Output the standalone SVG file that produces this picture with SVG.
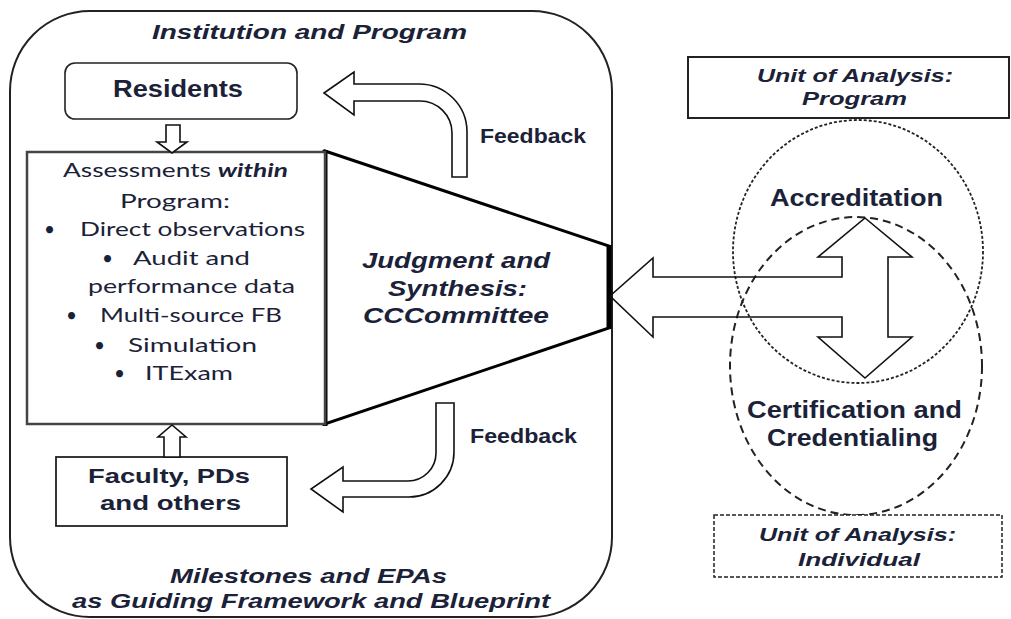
<svg xmlns="http://www.w3.org/2000/svg" width="1011" height="619" viewBox="0 0 1011 619">
<style>
.b{font-family:"Liberation Sans",Arial,sans-serif;font-weight:bold;fill:#1b2238}
.bi{font-family:"Liberation Sans",Arial,sans-serif;font-weight:bold;font-style:italic;fill:#1b2238}
.c{font-family:Lato,"Open Sans",sans-serif;font-size:19px;fill:#1b2238}
.arr{fill:#fff;stroke:#111;stroke-width:1.6;stroke-linejoin:miter}
</style>
<rect width="1011" height="619" fill="#fff"/>
<g id="institution">
<rect x="10" y="11" width="602" height="606" rx="80" ry="80" fill="#fff" stroke="#222" stroke-width="2"/>
<text class="bi" x="152" y="39" font-size="21" textLength="315" lengthAdjust="spacingAndGlyphs">Institution and Program</text>
<text class="bi" x="170" y="583" font-size="21" textLength="277" lengthAdjust="spacingAndGlyphs">Milestones and EPAs</text>
<text class="bi" x="72" y="608" font-size="21" textLength="478" lengthAdjust="spacingAndGlyphs">as Guiding Framework and Blueprint</text>
</g>
<g id="residents">
<rect x="65" y="63" width="232" height="56" rx="10" ry="10" fill="#fff" stroke="#222" stroke-width="1.6"/>
<text class="b" x="113" y="97" font-size="23" textLength="130" lengthAdjust="spacingAndGlyphs">Residents</text>
</g>
<g id="judgment">
<polygon points="325,151 609,246 609,328 325,424" fill="#fff" stroke="#000" stroke-width="3" stroke-linejoin="miter"/>
<line x1="325" y1="150" x2="325" y2="426" stroke="#000" stroke-width="5"/>
<line x1="609" y1="245" x2="609" y2="329" stroke="#000" stroke-width="5"/>
<text class="bi" x="362" y="268" font-size="22" textLength="188" lengthAdjust="spacingAndGlyphs">Judgment and</text>
<text class="bi" x="388" y="296" font-size="22" textLength="139" lengthAdjust="spacingAndGlyphs">Synthesis:</text>
<text class="bi" x="363" y="323" font-size="22" textLength="186" lengthAdjust="spacingAndGlyphs">CCCommittee</text>
</g>
<g id="assessments">
<rect x="27" y="152" width="298" height="272" fill="#fff" stroke="#444" stroke-width="2.5"/>
<text class="c" x="63" y="177" textLength="225" lengthAdjust="spacingAndGlyphs">Assessments <tspan font-weight="bold" font-style="italic">within</tspan></text>
<text class="c" x="120" y="208" textLength="110" lengthAdjust="spacingAndGlyphs">Program:</text>
<text class="c" x="44" y="236">•</text>
<text class="c" x="80" y="236" textLength="225" lengthAdjust="spacingAndGlyphs">Direct observations</text>
<text class="c" x="102" y="265">•</text>
<text class="c" x="133" y="265" textLength="117" lengthAdjust="spacingAndGlyphs">Audit and</text>
<text class="c" x="88" y="293" textLength="207" lengthAdjust="spacingAndGlyphs">performance data</text>
<text class="c" x="66" y="322">•</text>
<text class="c" x="100" y="322" textLength="182" lengthAdjust="spacingAndGlyphs">Multi-source FB</text>
<text class="c" x="94" y="352">•</text>
<text class="c" x="128" y="352" textLength="129" lengthAdjust="spacingAndGlyphs">Simulation</text>
<text class="c" x="114" y="380">•</text>
<text class="c" x="145" y="380" textLength="88" lengthAdjust="spacingAndGlyphs">ITExam</text>
</g>
<g id="faculty">
<rect x="56" y="457" width="231" height="69" fill="#fff" stroke="#222" stroke-width="1.8"/>
<text class="b" x="88" y="483" font-size="21" textLength="162" lengthAdjust="spacingAndGlyphs">Faculty, PDs</text>
<text class="b" x="100" y="510" font-size="21" textLength="141" lengthAdjust="spacingAndGlyphs">and others</text>
</g>
<g id="feedback-labels">
<text class="b" x="480" y="143" font-size="20" textLength="106" lengthAdjust="spacingAndGlyphs">Feedback</text>
<text class="b" x="470" y="443" font-size="20" textLength="107" lengthAdjust="spacingAndGlyphs">Feedback</text>
</g>
<g id="unit-program">
<rect x="688" y="57" width="321" height="61" fill="#fff" stroke="#222" stroke-width="2"/>
<text class="bi" x="757" y="82" font-size="19" textLength="196" lengthAdjust="spacingAndGlyphs">Unit of Analysis:</text>
<text class="bi" x="802" y="105" font-size="19" textLength="105" lengthAdjust="spacingAndGlyphs">Program</text>
</g>
<g id="accreditation">
<ellipse cx="858" cy="251.5" rx="125" ry="131.5" fill="none" stroke="#222" stroke-width="1.8" stroke-dasharray="3 2"/>
<text class="b" x="770" y="206" font-size="23" textLength="173" lengthAdjust="spacingAndGlyphs">Accreditation</text>
</g>
<g id="certification">
<ellipse cx="856" cy="366" rx="126" ry="149" fill="none" stroke="#222" stroke-width="2" stroke-dasharray="8 5"/>
<text class="b" x="747" y="418" font-size="23" textLength="215" lengthAdjust="spacingAndGlyphs">Certification and</text>
<text class="b" x="767" y="446" font-size="23" textLength="171" lengthAdjust="spacingAndGlyphs">Credentialing</text>
</g>
<g id="unit-individual">
<rect x="714" y="515" width="288" height="62" fill="#fff" stroke="#222" stroke-width="1.5" stroke-dasharray="4 2"/>
<text class="bi" x="759" y="541" font-size="19" textLength="197" lengthAdjust="spacingAndGlyphs">Unit of Analysis:</text>
<text class="bi" x="798" y="566" font-size="19" textLength="122" lengthAdjust="spacingAndGlyphs">Individual</text>
</g>
<g id="connectors">
<path class="arr" d="M166,125 L180,125 L180,142 L187,142 L172,153 L157,142 L166,142 Z"/>
<path class="arr" d="M164,457 L164,437 L158,437 L172,425 L186,437 L180,437 L180,457 Z"/>
<path class="arr" d="M324,93 L354,72 L354,84 L419,84 A48,48 0 0 1 467,132 L467,177 L452,177 L452,133 A32,32 0 0 0 420,101 L354,101 L354,115 Z"/>
<path class="arr" d="M436,403 L454,403 L454,452 A45,45 0 0 1 409,497 L343,497 L343,512 L311,489 L343,467 L343,481 L408,481 A28,28 0 0 0 436,453 Z"/>
<path class="arr" fill-opacity="0" d="M865,218 L912,257 L888,257 L888,337 L912,337 L865,378 L818,337 L842,337 L842,317 L653,317 L653,337 L610,296 L653,258 L653,277 L842,277 L842,257 L818,257 Z"/>
</g>
</svg>
